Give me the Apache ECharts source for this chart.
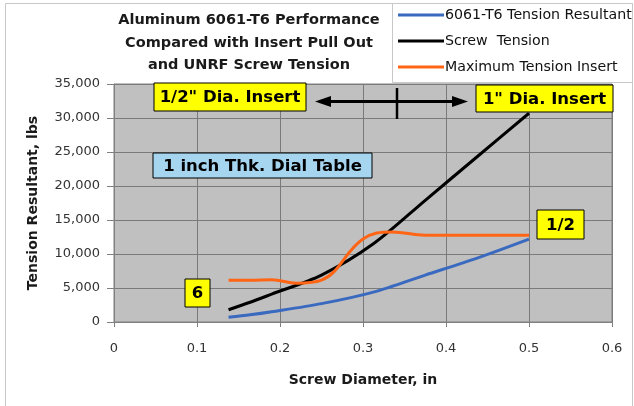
<!DOCTYPE html>
<html><head><meta charset="utf-8">
<script src="https://cdn.jsdelivr.net/npm/echarts@6/dist/echarts.min.js"></script>
<style>html,body{margin:0;padding:0;background:#fff}#c{width:634px;height:406px}</style>
</head><body><div id="c"></div>
<script>
var titleText = 'Aluminum 6061-T6 Performance\nCompared with Insert Pull Out\nand UNRF Screw Tension';
var seriesNames = ['6061-T6 Tension Resultant', 'Screw  Tension', 'Maximum Tension Insert'];
var xTicks = [0, 0.1, 0.2, 0.3, 0.4, 0.5, 0.6];
var yTicks = [0, 5000, 10000, 15000, 20000, 25000, 30000, 35000];
var screwDia = [0.138, 0.164, 0.19, 0.25, 0.3125, 0.375, 0.4375, 0.5];
var alumTension = [700, 1050, 1500, 2700, 4400, 6900, 9400, 12200];
var screwTension = [1800, 2900, 4100, 6900, 11500, 17900, 24300, 30700];
var insertDia = [0.138, 0.164, 0.19, 0.22, 0.25, 0.3, 0.335, 0.375, 0.4375, 0.5];
var insertTension = [6150, 6150, 6200, 5700, 6150, 12200, 13250, 12750, 12750, 12750];

function pairs(xs, ys){ return xs.map(function(x,i){ return [x, ys[i]]; }); }
var FONT = 'DejaVu Sans';
var chart = echarts.init(document.getElementById('c'), null, {renderer:'canvas'});

function box(x,y,w,h,fill,label,size){
  return [
    {type:'rect', z:10, shape:{x:x,y:y,width:w,height:h}, style:{fill:fill, stroke:'#000', lineWidth:1}},
    {type:'text', z:11, x:x+w/2, y:y+h/2+1, style:{text:label, fill:'#000', font:'bold '+size+'px "DejaVu Sans"', textAlign:'center', textVerticalAlign:'middle'}}
  ];
}
var g = [
  {type:'rect', z:-10, shape:{x:5.5,y:3.5,width:627,height:410}, style:{fill:'none', stroke:'#c8c8c8', lineWidth:1}},
  {type:'rect', z:-5, shape:{x:392.5,y:3.5,width:240,height:79}, style:{fill:'#fff', stroke:'#c8c8c8', lineWidth:1}}
];
g = g.concat(box(154,83,152,28,'#ffff00','1/2" Dia. Insert',16.5));
g = g.concat(box(476,85,137,27,'#ffff00','1" Dia. Insert',16.5));
g = g.concat(box(153,153,219,25,'#a6d5ef','1 inch Thk. Dial Table',16.5));
g = g.concat(box(185,279,25,28,'#ffff00','6',16.5));
g = g.concat(box(537,210,47,29,'#ffff00','1/2',16.5));
g.push({type:'line', z:10, shape:{x1:326,y1:101.5,x2:457,y2:101.5}, style:{stroke:'#000', lineWidth:3}});
g.push({type:'line', z:10, shape:{x1:397,y1:88,x2:397,y2:119}, style:{stroke:'#000', lineWidth:2.5}});
g.push({type:'polygon', z:10, shape:{points:[[315,101.5],[331,96],[331,107]]}, style:{fill:'#000'}});
g.push({type:'polygon', z:10, shape:{points:[[468,101.5],[452,96],[452,107]]}, style:{fill:'#000'}});

chart.setOption({
  animation:false,
  backgroundColor:'#fff',
  title:{text:titleText, left:244, top:4, textAlign:'center',
    textStyle:{fontFamily:FONT, fontWeight:'bold', fontSize:14.5, color:'#1a1a1a', lineHeight:22.5}},
  legend:{orient:'vertical', left:393, top:3, itemWidth:46, itemHeight:3, itemGap:12, icon:'rect',
    textStyle:{fontFamily:FONT, fontSize:14.2, color:'#111', padding:[0,0,0,-4]},
    data:seriesNames},
  grid:{left:114, right:22, top:84, bottom:84, show:true, backgroundColor:'#c0c0c0', borderColor:'#808080', borderWidth:1},
  xAxis:{type:'value', min:0, max:0.6, interval:0.1,
    name:'Screw Diameter, in', nameLocation:'middle', nameGap:51,
    nameTextStyle:{fontFamily:FONT, fontWeight:'bold', fontSize:14, color:'#1a1a1a'},
    axisLine:{show:true, lineStyle:{color:'#808080'}},
    axisTick:{show:true, length:5, lineStyle:{color:'#808080'}},
    axisLabel:{margin:20, fontFamily:FONT, fontSize:13, color:'#333',
      formatter:function(v){ return xTicks.indexOf(Math.round(v*10)/10) >= 0 ? String(Math.round(v*10)/10) : ''; }},
    splitLine:{show:true, lineStyle:{color:'#7a7a7a', width:1}}},
  yAxis:{type:'value', min:0, max:35000, interval:5000,
    name:'Tension Resultant, lbs', nameLocation:'middle', nameGap:74,
    nameTextStyle:{fontFamily:FONT, fontWeight:'bold', fontSize:14, color:'#1a1a1a'},
    axisLine:{show:true, lineStyle:{color:'#808080'}},
    axisTick:{show:true, length:7, lineStyle:{color:'#808080'}},
    axisLabel:{margin:14, fontFamily:FONT, fontSize:13, color:'#333',
      formatter:function(v){ return yTicks.indexOf(v) >= 0 ? v.toLocaleString('en-US') : ''; }},
    splitLine:{show:true, lineStyle:{color:'#7a7a7a', width:1}}},
  series:[
    {name:seriesNames[0], type:'line', data:pairs(screwDia, alumTension), smooth:0.3, symbol:'none',
      lineStyle:{color:'#3a69c0', width:3}, itemStyle:{color:'#3a69c0'}, z:3},
    {name:seriesNames[1], type:'line', data:pairs(screwDia, screwTension), smooth:0.3, symbol:'none',
      lineStyle:{color:'#000', width:3}, itemStyle:{color:'#000'}, z:3},
    {name:seriesNames[2], type:'line', data:pairs(insertDia, insertTension), smooth:0.4, symbol:'none',
      lineStyle:{color:'#ff6514', width:3}, itemStyle:{color:'#ff6514'}, z:4}
  ],
  graphic:g
});
</script></body></html>
